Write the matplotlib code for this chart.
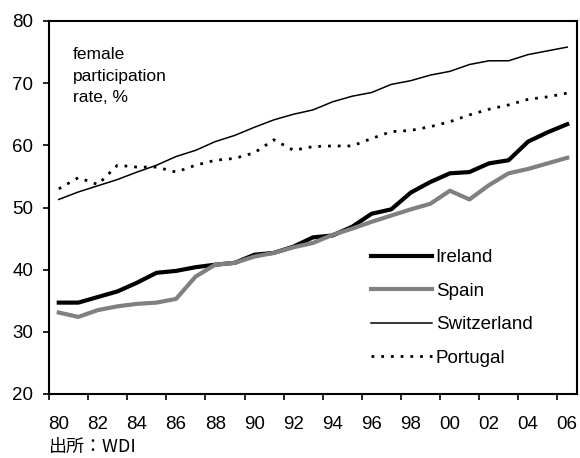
import numpy as np
import matplotlib
matplotlib.use("Agg")
import matplotlib.pyplot as plt
from matplotlib.ticker import FixedLocator

plt.rcParams['font.family'] = ['Liberation Sans', 'DejaVu Sans']

# data, 1980-2006
years = list(range(1980, 2007))
ireland = [34.7, 34.7, 35.6, 36.5, 37.9, 39.5, 39.8, 40.4, 40.8, 41.1, 42.4, 42.7, 43.7, 45.2,
           45.5, 46.9, 49.0, 49.7, 52.4, 54.1, 55.5, 55.7, 57.1, 57.6, 60.6, 62.1, 63.4]
spain = [33.1, 32.4, 33.5, 34.1, 34.5, 34.7, 35.3, 38.9, 40.8, 41.1, 42.1, 42.7, 43.6, 44.3,
         45.6, 46.6, 47.7, 48.7, 49.7, 50.6, 52.7, 51.3, 53.6, 55.5, 56.2, 57.1, 58.0]
switzerland = [51.3, 52.5, 53.5, 54.5, 55.7, 56.8, 58.2, 59.2, 60.6, 61.6, 62.9, 64.1, 65.0, 65.7,
               67.0, 67.9, 68.5, 69.8, 70.4, 71.3, 71.9, 73.0, 73.6, 73.6, 74.6, 75.2, 75.8]
portugal = [53.0, 54.8, 53.7, 56.8, 56.5, 56.5, 55.7, 56.8, 57.6, 57.9, 58.8, 60.9, 59.2, 59.8,
            59.9, 59.9, 61.1, 62.2, 62.4, 63.0, 63.8, 64.9, 65.8, 66.5, 67.4, 67.8, 68.4]
xlabels = ["%02d" % (y % 100) for y in years[::2]]

fig = plt.figure(figsize=(5.8, 4.58), dpi=100)
ax = fig.add_axes([49 / 580, 64 / 458, 528 / 580, 373 / 458])

x = np.arange(len(years))
ax.plot(x, ireland, color='black', lw=3.0, label='Ireland')
ax.plot(x, spain, color='#808080', lw=3.0, label='Spain')
ax.plot(x, switzerland, color='black', lw=1.1, label='Switzerland')
ax.plot(x, portugal, color='black', lw=2.0, linestyle=(0, (1, 2.5)), label='Portugal',
        dash_capstyle='butt')

ax.set_xlim(-0.5, len(years) - 0.5)
ax.set_ylim(20, 80)
ax.set_yticks(range(20, 81, 10))

# tick marks between categories, labels on every other category
ax.xaxis.set_major_locator(FixedLocator(np.arange(-0.5, len(years) - 1, 2)))
ax.xaxis.set_major_formatter(plt.NullFormatter())
ax.xaxis.set_minor_locator(FixedLocator(x[::2]))
ax.set_xticklabels(xlabels, minor=True)
ax.tick_params(axis='x', which='major', direction='out', length=4.5, width=1.2)
ax.tick_params(axis='x', which='minor', length=0, pad=15.5, labelsize=13.5)
ax.tick_params(axis='y', direction='out', length=4.5, width=1.2, pad=7, labelsize=13.5)

for s in ax.spines.values():
    s.set_linewidth(1.5)

ax.text(0.045, 0.93, "female\nparticipation\nrate, %", transform=ax.transAxes,
        fontsize=12.5, va='top', ha='left', linespacing=1.55)

ax.legend(loc='upper left', bbox_to_anchor=(371 / 580, 1 - 249 / 458),
          bbox_transform=fig.transFigure, frameon=False, fontsize=13.5,
          handlelength=3.25, handletextpad=0.2, labelspacing=0.88, borderpad=0,
          borderaxespad=0)

fig.text(49 / 580, 1 - 447 / 458, "出所：WDI", fontsize=13, va='center', ha='left',
         family=['Noto Sans CJK JP', 'DejaVu Sans'])

fig.savefig("out.png", dpi=100)
